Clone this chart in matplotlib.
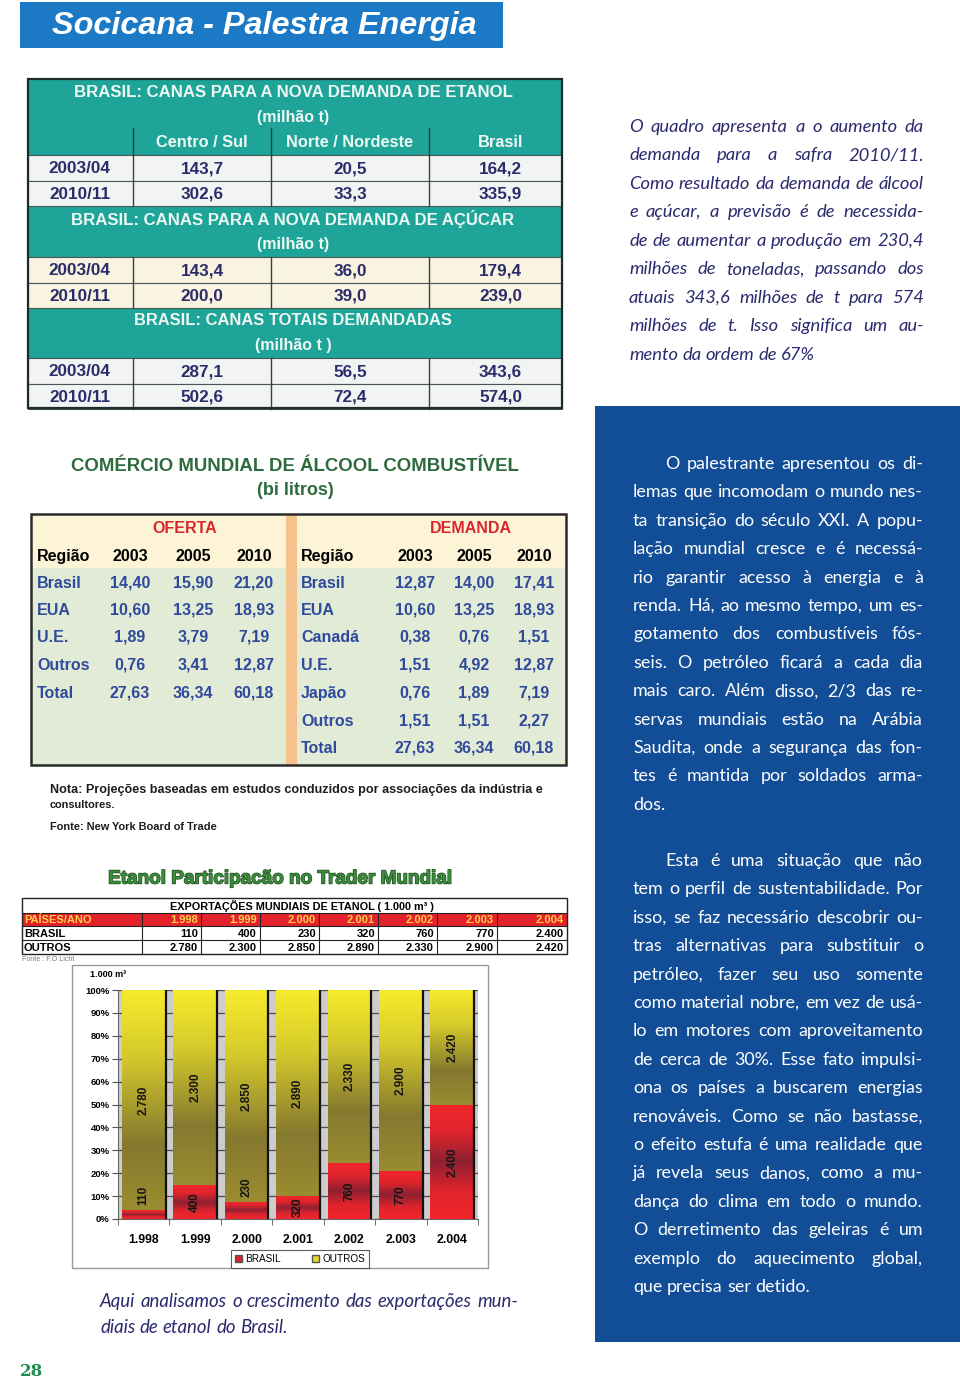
import matplotlib
matplotlib.use('Agg')
import matplotlib.pyplot as plt
import numpy as np
from matplotlib.patches import Rectangle, Patch
from matplotlib.colors import LinearSegmentedColormap
import matplotlib.patheffects as pe

W, H = 960, 1382
plt.rcParams['font.family'] = ['Liberation Sans', 'DejaVu Sans']

# ---------------- dados ----------------
# tabela 1 : canas para a nova demanda (milhao t)
safras = ['2003/04', '2010/11']
colunas_cana = ['Centro / Sul', 'Norte / Nordeste', 'Brasil']
etanol_centro = [143.7, 302.6]
etanol_norte = [20.5, 33.3]
etanol_brasil = [164.2, 335.9]
acucar_centro = [143.4, 200.0]
acucar_norte = [36.0, 39.0]
acucar_brasil = [179.4, 239.0]
total_centro = [287.1, 502.6]
total_norte = [56.5, 72.4]
total_brasil = [343.6, 574.0]

# tabela 2 : comercio mundial de alcool combustivel (bi litros)
anos_comercio = ['2003', '2005', '2010']
oferta_regioes = ['Brasil', 'EUA', 'U.E.', 'Outros', 'Total']
oferta_2003 = [14.40, 10.60, 1.89, 0.76, 27.63]
oferta_2005 = [15.90, 13.25, 3.79, 3.41, 36.34]
oferta_2010 = [21.20, 18.93, 7.19, 12.87, 60.18]
demanda_regioes = ['Brasil', 'EUA', 'Canadá', 'U.E.', 'Japão', 'Outros', 'Total']
demanda_2003 = [12.87, 10.60, 0.38, 1.51, 0.76, 1.51, 27.63]
demanda_2005 = [14.00, 13.25, 0.76, 4.92, 1.89, 1.51, 36.34]
demanda_2010 = [17.41, 18.93, 1.51, 12.87, 7.19, 2.27, 60.18]

# grafico : exportacoes mundiais de etanol (1.000 m3)
anos_export = ['1.998', '1.999', '2.000', '2.001', '2.002', '2.003', '2.004']
export_brasil = [110, 400, 230, 320, 760, 770, 2400]
export_outros = [2780, 2300, 2850, 2890, 2330, 2900, 2420]

texto_quadro = [
    'O quadro apresenta a o aumento da',
    'demanda para a safra 2010/11.',
    'Como resultado da demanda de álcool',
    'e açúcar, a previsão é de necessida-',
    'de de aumentar a produção em 230,4',
    'milhões de toneladas, passando dos',
    'atuais 343,6 milhões de t para 574',
    'milhões de t. Isso significa um au-',
    'mento da ordem de 67%',
]
texto_par1 = [
    'O palestrante apresentou os di-',
    'lemas que incomodam o mundo nes-',
    'ta transição do século XXI. A popu-',
    'lação mundial cresce e é necessá-',
    'rio garantir acesso à energia e à',
    'renda. Há, ao mesmo tempo, um es-',
    'gotamento dos combustíveis fós-',
    'seis. O petróleo ficará a cada dia',
    'mais caro. Além disso, 2/3 das re-',
    'servas mundiais estão na Arábia',
    'Saudita, onde a segurança das fon-',
    'tes é mantida por soldados arma-',
    'dos.',
]
texto_par2 = [
    'Esta é uma situação que não',
    'tem o perfil de sustentabilidade. Por',
    'isso, se faz necessário descobrir ou-',
    'tras alternativas para substituir o',
    'petróleo, fazer seu uso somente',
    'como material nobre, em vez de usá-',
    'lo em motores com aproveitamento',
    'de cerca de 30%. Esse fato impulsi-',
    'ona os países a buscarem energias',
    'renováveis. Como se não bastasse,',
    'o efeito estufa é uma realidade que',
    'já revela seus danos, como a mu-',
    'dança do clima em todo o mundo.',
    'O derretimento das geleiras é um',
    'exemplo do aquecimento global,',
    'que precisa ser detido.',
]
texto_legenda = [
    'Aqui analisamos o crescimento das exportações mun-',
    'diais de etanol do Brasil.',
]

# ---------------- pagina ----------------
fig = plt.figure(figsize=(9.6, 13.82), dpi=100)
page = fig.add_axes([0, 0, 1, 1])
page.set_xlim(0, W)
page.set_ylim(H, 0)
page.axis('off')
renderer = fig.canvas.get_renderer()

BODY = ['Lato', 'DejaVu Sans']


def box(x0, y0, x1, y1, fc, ec='none', lw=0, z=1):
    page.add_patch(Rectangle((x0, y0), x1 - x0, y1 - y0, facecolor=fc,
                             edgecolor=ec, linewidth=lw, zorder=z))


def t(x, y, s, size=10, color='black', ha='center', va='center', **kw):
    return page.text(x, y, s, fontsize=size, color=color, ha=ha, va=va, zorder=5, **kw)


def width_of(a):
    return a.get_window_extent(renderer).width


def fit(x, y, s, width, size=12, **kw):
    a = t(x, y, s, size=size, **kw)
    a.set_fontsize(size * width / width_of(a))
    return a


def body_size(lines, width, start, indent=0, **kw):
    probe = t(0, 0, '', size=start, ha='left', **kw)
    ratio = 1.0
    for i, ln in enumerate(lines):
        probe.set_text(ln)
        avail = width - (indent if i == 0 else 0)
        ratio = min(ratio, avail / width_of(probe))
    probe.remove()
    return start * ratio * 0.99


def paragraph(lines, x0, x1, y0, dy, size, indent=0, **kw):
    a = t(0, 0, 'a a', size=size, **kw)
    b = t(0, 0, 'aa', size=size, **kw)
    space = width_of(a) - width_of(b)
    a.remove()
    b.remove()
    for i, line in enumerate(lines):
        y = y0 + i * dy
        words = line.split()
        arts = [t(0, y, w, size=size, ha='left', va='baseline', **kw) for w in words]
        ws = [width_of(w) for w in arts]
        left = x0 + (indent if i == 0 else 0)
        if i == len(lines) - 1 or len(words) == 1:
            gap = space
        else:
            gap = (x1 - left - sum(ws)) / (len(words) - 1)
        x = left
        for w_art, w in zip(arts, ws):
            w_art.set_x(x)
            x += w + gap


def dec(v, n):
    return f'{v:.{n}f}'.replace('.', ',')


def mil(v):
    return f'{v:,}'.replace(',', '.')


# cabecalho
box(20, 2, 503, 48, '#1b79c6')
fit(264, 26, 'Socicana - Palestra Energia', 424, size=22, color='white',
    fontweight='bold', fontstyle='italic')

# caixa azul da direita
box(595, 406, 960, 1342, '#124e97')

# ---------------- tabela 1 ----------------
TEAL = '#1fa49a'
NAVY = '#2b2c6b'
xl, xr = 28, 562
cols = [28, 133, 271, 429, 562]
centers = [(cols[i] + cols[i + 1]) / 2 for i in range(4)]

secoes = [
    ('BRASIL: CANAS PARA A NOVA DEMANDA DE ETANOL', '(milhão t)', 79, 128,
     [etanol_centro, etanol_norte, etanol_brasil], '#f1f4f3', 442),
    ('BRASIL: CANAS PARA A NOVA DEMANDA DE AÇÚCAR', '(milhão t)', 206, 257,
     [acucar_centro, acucar_norte, acucar_brasil], '#f8f4e0', 446),
    ('BRASIL: CANAS TOTAIS DEMANDADAS', '(milhão t )', 307, 358,
     [total_centro, total_norte, total_brasil], '#f1f4f3', 320),
]
for k, (tit, uni, y0, y1, series, bg, tw) in enumerate(secoes):
    box(xl, y0, xr, y1, TEAL)
    yt = y0 + 13
    fit(293, yt, tit, tw, size=11.5, color='#eef8f2', fontweight='bold')
    t(293, yt + 25, uni, size=11.5, color='#eef8f2', fontweight='bold')
    top = y1
    if k == 0:
        box(xl, 128, xr, 155, TEAL)
        for c, nome in zip(centers[1:], colunas_cana):
            t(c + (5 if nome == 'Brasil' else 0), 142, nome, size=11.8,
              color='#eef8f2', fontweight='bold')
        for cx in cols[1:-1]:
            page.plot([cx, cx], [128, 155], color='#24403e', lw=1, zorder=3)
        top = 155
    for r, safra in enumerate(safras):
        ya, yb = top + r * 25.5, top + (r + 1) * 25.5
        box(xl, ya, xr, yb, bg, ec='#4a5656', lw=0.8, z=2)
        yc = (ya + yb) / 2 + 1
        t(centers[0] - 1, yc, safra, size=12.3, color=NAVY, fontweight='bold')
        for c, serie in zip(centers[1:], series):
            t(c + (5 if c == centers[3] else 0), yc, dec(serie[r], 1), size=12.3,
              color=NAVY, fontweight='bold')
        for cx in cols[1:-1]:
            page.plot([cx, cx], [ya, yb], color='#3a4040', lw=1, zorder=3)
page.add_patch(Rectangle((xl, 79), xr - xl, 408 - 79, fill=False,
                         edgecolor='#1d2b2b', lw=1.6, zorder=4))

# texto italico superior
QUADRO = '#2b2a6e'
s1 = body_size(texto_quadro, 295, 15, family=BODY, fontstyle='italic')
paragraph(texto_quadro, 629, 924, 132, 28.45, s1, family=BODY,
          fontstyle='italic', color=QUADRO)

# ---------------- tabela 2 ----------------
GREEN_T = '#2d6b3d'
fit(295, 466, 'COMÉRCIO MUNDIAL DE ÁLCOOL COMBUSTÍVEL', 449, size=13,
    color=GREEN_T, fontweight='bold')
t(295, 490, '(bi litros)', size=13, color=GREEN_T, fontweight='bold')
box(31, 514, 566, 568, '#fdf3d7')
box(31, 568, 566, 765, '#e2ebd6')
box(286, 514, 297, 765, '#f5c28e', z=2)
page.add_patch(Rectangle((31, 514), 535, 251, fill=False, edgecolor='#2a2a2a',
                         lw=1.8, zorder=4))
RED_T = '#d8262c'
BLUE_V = '#2f4a9d'
t(185, 528, 'OFERTA', size=11.5, color=RED_T, fontweight='bold')
t(471, 528, 'DEMANDA', size=11.5, color=RED_T, fontweight='bold')
xo = [130, 193, 254]
xd = [415, 474, 534]
t(37, 556, 'Região', size=11.5, ha='left', fontweight='bold')
t(301, 556, 'Região', size=11.5, ha='left', fontweight='bold')
for a, x1_, x2_ in zip(anos_comercio, xo, xd):
    t(x1_, 556, a, size=11.5, fontweight='bold')
    t(x2_, 556, a, size=11.5, fontweight='bold')
rows_y = [583, 610, 637, 665, 693, 721, 748]
for i, reg in enumerate(oferta_regioes):
    y = rows_y[i]
    t(37, y, reg, size=11.5, ha='left', color=BLUE_V, fontweight='bold')
    for x_, serie in zip(xo, [oferta_2003, oferta_2005, oferta_2010]):
        t(x_, y, dec(serie[i], 2), size=11.5, color=BLUE_V, fontweight='bold')
for i, reg in enumerate(demanda_regioes):
    y = rows_y[i]
    t(301, y, reg, size=11.5, ha='left', color=BLUE_V, fontweight='bold')
    for x_, serie in zip(xd, [demanda_2003, demanda_2005, demanda_2010]):
        t(x_, y, dec(serie[i], 2), size=11.5, color=BLUE_V, fontweight='bold')

fit(50, 790, 'Nota: Projeções baseadas em estudos conduzidos por associações da indústria e',
    495, size=8, ha='left', color='#1e1e1e', fontweight='bold')
t(50, 805, 'consultores.', size=7.9, ha='left', color='#1e1e1e', fontweight='bold')
t(50, 827, 'Fonte: New York Board of Trade', size=7.9, ha='left', color='#1e1e1e',
  fontweight='bold')

# texto na caixa azul
s2 = body_size(texto_par1 + texto_par2, 291, 15.5, indent=32, family=BODY)
paragraph(texto_par1, 633, 923, 469, 28.4, s2, indent=32, family=BODY, color='white')
paragraph(texto_par2, 633, 923, 866, 28.4, s2, indent=32, family=BODY, color='white')

# ---------------- grafico etanol ----------------
title = fit(280, 879, 'Etanol Participacão no Trader Mundial', 345, size=24,
            color='#3c8c3b', fontweight='bold',
            family=['Liberation Sans', 'DejaVu Sans'])
title.set_path_effects([pe.withStroke(linewidth=1.0, foreground='#1f4f20')])

# tabela de exportacoes
box(22, 898, 567, 954, 'white', z=2)
box(22, 913, 567, 926, '#e4222a', z=2)
page.add_patch(Rectangle((22, 898), 545, 56, fill=False, edgecolor='#222', lw=1, zorder=4))
for yy in [913, 926, 940]:
    page.plot([22, 567], [yy, yy], color='#222', lw=0.8, zorder=4)
tcols = [142, 201, 260, 319, 378, 437, 497]
for cx in tcols:
    page.plot([cx, cx], [913, 954], color='#222', lw=0.8, zorder=4)
t(302, 906, 'EXPORTAÇÕES MUNDIAIS DE ETANOL ( 1.000 m³ )', size=7.8, fontweight='bold')
t(24, 920, 'PAÍSES/ANO', size=8, ha='left', color='#ffd04a', fontweight='bold')
t(24, 933.5, 'BRASIL', size=8, ha='left', fontweight='bold')
t(24, 947.5, 'OUTROS', size=8, ha='left', fontweight='bold')
rights = tcols[1:] + [567]
for i, xr_ in enumerate(rights):
    t(xr_ - 3, 920, anos_export[i], size=8, ha='right', color='#ffd04a', fontweight='bold')
    t(xr_ - 3, 933.5, mil(export_brasil[i]), size=8, ha='right', fontweight='bold')
    t(xr_ - 3, 947.5, mil(export_outros[i]), size=8, ha='right', fontweight='bold')
t(22, 959, 'Fonte : F.O Licht', size=5, ha='left', color='#777')

# moldura do grafico
box(72, 965, 488, 1268, 'white', ec='#9a9a9a', lw=1)
t(90, 974, '1.000 m³', size=6.5, ha='left', fontweight='bold')

ax = fig.add_axes([118 / W, 1 - 1219 / H, 360 / W, 229 / H])
x = np.arange(len(anos_export))
brasil = np.array(export_brasil, dtype=float)
outros = np.array(export_outros, dtype=float)
pct_b = 100 * brasil / (brasil + outros)
pct_o = 100 - pct_b
bw = 0.85

cmap_b = LinearSegmentedColormap.from_list(
    'brasil', [(0, '#f5252b'), (0.25, '#de242d'), (0.5, '#8e2132'), (0.75, '#de242d'), (1, '#f3262c')])
cmap_o = LinearSegmentedColormap.from_list(
    'outros', [(0, '#9a8c30'), (0.3, '#85792f'), (0.7, '#d6ca2c'), (1, '#f7ec2b')])


def gradient(bar, cmap):
    x0, y0 = bar.get_x(), bar.get_y()
    w, h = bar.get_width(), bar.get_height()
    grad = np.linspace(0, 1, 256).reshape(-1, 1)
    im = ax.imshow(grad, extent=(x0, x0 + w, y0, y0 + h), origin='lower', cmap=cmap,
                   aspect='auto', zorder=3, interpolation='bilinear')
    im.set_clip_path(bar)


bars_b = ax.bar(x, pct_b, bw, color='#e8232b', linewidth=0, zorder=2)
bars_o = ax.bar(x, pct_o, bw, bottom=pct_b, color='#e2d62b', linewidth=0, zorder=2)
for bar in bars_b:
    gradient(bar, cmap_b)
for bar in bars_o:
    gradient(bar, cmap_o)
ax.vlines(x + bw / 2, 0, 100, color='#111111', lw=1.6, zorder=4)

for i in x:
    yb = pct_b[i] / 2 if pct_b[i] > 8 else pct_b[i] + 6.5
    ax.text(i, yb, mil(export_brasil[i]), rotation=90, ha='center', va='center',
            fontsize=8.5, fontweight='bold', color='#151515', zorder=6)
    ax.text(i, pct_b[i] + pct_o[i] / 2, mil(export_outros[i]), rotation=90,
            ha='center', va='center', fontsize=8.5, fontweight='bold',
            color='#151515', zorder=6)

ax.set_xlim(-0.5, len(x) - 0.5)
ax.set_ylim(0, 100)
ax.set_facecolor('#cdcdcd')
ax.set_axisbelow(True)
ax.yaxis.grid(True, color='#4d4d4d', lw=0.9)
ax.set_yticks(range(0, 101, 10))
ax.set_yticklabels([f'{v}%' for v in range(0, 101, 10)], fontsize=6.8, fontweight='bold')
ax.set_xticks(x)
ax.set_xticklabels(anos_export, fontsize=8.8, fontweight='bold')
ax.set_xticks(np.arange(-0.5, len(x), 1), minor=True)
ax.tick_params(axis='x', which='major', length=0, pad=11)
ax.tick_params(axis='x', which='minor', length=4, color='#555')
ax.tick_params(axis='y', length=4, width=0.8, color='#555', pad=2)
for s in ['top', 'right']:
    ax.spines[s].set_visible(False)
ax.spines['left'].set_color('#666')
ax.spines['bottom'].set_color('#666')

leg = fig.legend(handles=[Patch(fc='#d8242e', ec='#555'), Patch(fc='#e2d62b', ec='#555')],
                 labels=['BRASIL', 'OUTROS'], loc='center',
                 bbox_to_anchor=(300 / W, 1 - 1259 / H), ncol=2, fontsize=7.2,
                 frameon=True, fancybox=False, edgecolor='#333', handlelength=0.7,
                 handleheight=0.7, handletextpad=0.3, columnspacing=3.2, borderpad=0.4)
leg.get_frame().set_linewidth(0.8)

# legenda do grafico
s3 = body_size(texto_legenda, 418, 15, family=BODY, fontstyle='italic')
paragraph(texto_legenda, 100, 518, 1307, 26, s3, family=BODY, fontstyle='italic',
          color=QUADRO)

# numero da pagina
t(20, 1371, '28', size=12, ha='left', color='#1f8c4c', fontweight='bold',
  family=['DejaVu Serif'])

fig.savefig('out.png', dpi=100)
